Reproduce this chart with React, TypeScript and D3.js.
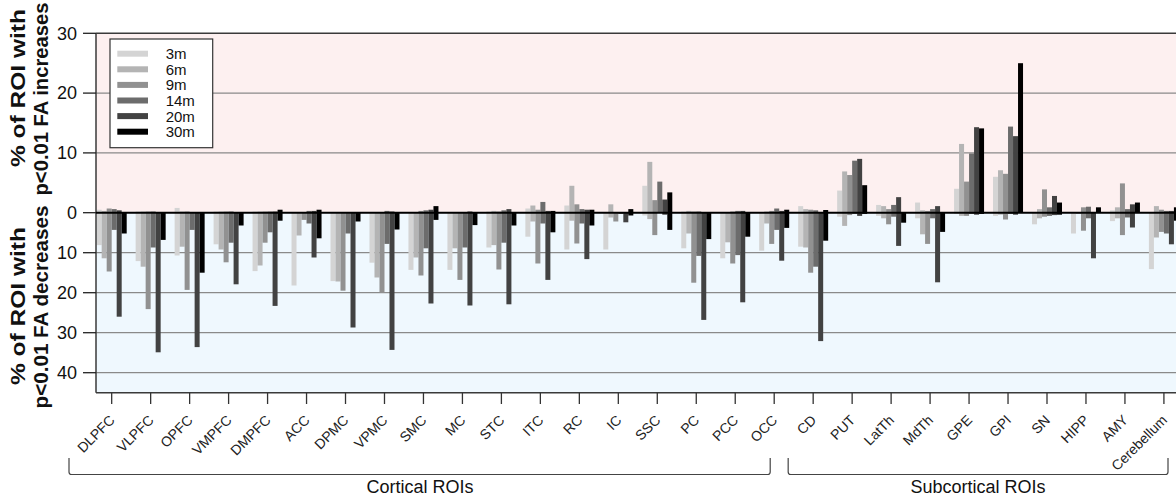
import React from 'react';
import * as d3 from 'd3';

const rois = ['DLPFC', 'VLPFC', 'OPFC', 'VMPFC', 'DMPFC', 'ACC', 'DPMC', 'VPMC', 'SMC', 'MC', 'STC', 'ITC', 'RC', 'IC', 'SSC', 'PC', 'PCC', 'OCC',
  'CD', 'PUT', 'LatTh', 'MdTh', 'GPE', 'GPI', 'SN', 'HIPP', 'AMY', 'Cerebellum'];
const groups = [
  { label: 'Cortical ROIs', first: 'DLPFC', last: 'OCC' },
  { label: 'Subcortical ROIs', first: 'CD', last: 'Cerebellum' },
];
const seriesNames = ['3m', '6m', '9m', '14m', '20m', '30m'];
const seriesColors = ['#d4d4d4', '#b4b4b4', '#919191', '#6c6c6c', '#424242', '#000000'];

// % of ROI with p<0.01 FA increases
const inc3m = [0.5, 0.2, 0.8, 0.2, 0.2, 0, 0, 0, 0, 0, 0.2, 0.7, 1.2, 0, 4.5, 0.2, 0, 0, 1.1, 3.7, 1.3, 1.7, 4.0, 6.0, 0, 0, 0.4, 0];
const inc6m = [0.3, 0.2, 0.2, 0.2, 0.2, 0, 0, 0, 0, 0, 0.3, 1.2, 4.5, 1.4, 8.5, 0.3, 0, 0.2, 0.6, 6.9, 1.1, 0.4, 11.5, 7.1, 0.6, 0, 0.9, 1.1];
const inc9m = [0.7, 0.2, 0.2, 0.2, 0.2, 0, 0, 0, 0.3, 0, 0.2, 0.5, 1.4, 0, 2.1, 0.2, 0.2, 0.3, 0.5, 6.3, 0.6, 0.3, 5.2, 6.5, 3.9, 0.9, 4.9, 0.5];
const inc14m = [0.6, 0.2, 0, 0.2, 0.2, 0.3, 0, 0.3, 0.4, 0, 0.4, 1.8, 0.6, 0, 5.2, 0.2, 0.3, 0.7, 0.4, 8.7, 1.3, 0.6, 9.9, 14.4, 0.9, 1.0, 0.6, 0.3];
const inc20m = [0.4, 0, 0, 0, 0.2, 0.3, 0, 0.2, 0.5, 0.2, 0.6, 0.3, 0.5, 0, 2.2, 0, 0.3, 0.3, 0, 9.0, 2.6, 1.1, 14.3, 12.8, 2.8, 0, 1.4, 0.3];
const inc30m = [0, 0, 0, 0, 0.5, 0.5, 0, 0, 1.1, 0, 0, 0.3, 0.5, 0.6, 3.4, 0, 0, 0.5, 0.45, 4.6, 0, 0, 14.1, 25, 1.7, 0.9, 1.7, 0.9];

// % of ROI with p<0.01 FA decreases
const dec3m = [8.1, 12.1, 10.7, 7.9, 14.6, 18.2, 17.1, 12.5, 14.3, 14.3, 8.7, 6, 9.2, 9.2, 0.7, 8.9, 11.4, 9.5, 8.5, 1, 0.8, 1.4, 0.3, 0.8, 2.9, 5.2, 2.1, 14.1];
const dec6m = [11.4, 13.5, 8.5, 9.2, 13.2, 5.7, 17.2, 16.2, 11.2, 8.9, 8.1, 2.2, 2, 1.2, 1.6, 5.2, 7.4, 2.7, 8.7, 3.3, 1.4, 5.4, 0.8, 0.5, 1.4, 0.3, 1.4, 6.2];
const dec9m = [14.7, 24.1, 19.3, 12.4, 7.5, 1.8, 19.5, 20, 15.7, 16.8, 14.2, 12.7, 7.7, 2.2, 5.6, 17.5, 12.7, 7.8, 15, 0.6, 2.9, 7.8, 0.8, 1.7, 1, 4.5, 5.6, 4.8];
const dec14m = [4.3, 8.7, 4.3, 7.5, 4.9, 2.7, 5.2, 7.8, 8.9, 8.7, 7.5, 2.7, 2.7, 0.3, 0, 10.8, 10.6, 4.3, 13.5, 0.3, 1, 1.4, 0.3, 0.3, 0.8, 1.4, 1.2, 5.2];
const dec20m = [26, 34.9, 33.6, 17.9, 23.3, 11.2, 28.7, 34.3, 22.7, 23.2, 22.9, 16.8, 11.6, 2.4, 0.5, 26.8, 22.4, 12, 32.1, 0.8, 8.3, 17.4, 0.5, 0.5, 0.6, 11.4, 3.7, 7.9];
const dec30m = [5.2, 6.8, 15, 3.2, 2, 6.4, 2.2, 4.2, 1.8, 3.1, 3.2, 4.9, 3.2, 0.7, 4.3, 6.6, 6, 3.8, 7, 0.3, 2.5, 4.8, 0.3, 0, 0.5, 0, 0, 2];

const increases = [inc3m, inc6m, inc9m, inc14m, inc20m, inc30m];
const decreases = [dec3m, dec6m, dec9m, dec14m, dec20m, dec30m];

const upTicks = [0, 10, 20, 30];
const downTicks = [10, 20, 30, 40];

const W = 1176;
const H = 496;
const plotLeft = 96;
const plotRight = 1190;
const plotTop = 33.3;
const zeroY = 212.7;
const plotBottom = 392.7;
const font = 'Liberation Sans, Arial, sans-serif';

const x = d3.scaleBand().domain(rois).range([92.2, 1183.4]).paddingInner(0.23).paddingOuter(0.115);
const xs = d3.scaleBand().domain(seriesNames).range([0, x.bandwidth()]);
const yUp = d3.scaleLinear().domain([0, 30]).range([zeroY, plotTop]);
const yDown = d3.scaleLinear().domain([0, 45]).range([zeroY, plotBottom]);

const center = (r: string) => (x(r) as number) + x.bandwidth() / 2;

export default function App() {
  return (
    <div style={{ position: 'absolute', left: 0, top: 0 }}>
      <svg width={W} height={H} style={{ display: 'block', background: '#fff' }} fontFamily={font}>
        {/* backgrounds */}
        <rect x={plotLeft} y={plotTop} width={plotRight - plotLeft} height={zeroY - plotTop} fill="#fdf0f0" />
        <rect x={plotLeft} y={zeroY} width={plotRight - plotLeft} height={plotBottom - zeroY} fill="#eff8fe" />

        {/* grid */}
        {upTicks.filter(t => t > 0 && t < 30).map(t => (
          <line key={'gu' + t} x1={plotLeft} x2={plotRight} y1={yUp(t)} y2={yUp(t)} stroke="#8a8a8a" strokeWidth={1.2} />
        ))}
        {downTicks.map(t => (
          <line key={'gd' + t} x1={plotLeft} x2={plotRight} y1={yDown(t)} y2={yDown(t)} stroke="#8a8a8a" strokeWidth={1.2} />
        ))}

        {/* bars */}
        {seriesNames.map((s, j) => (
          <g key={s} fill={seriesColors[j]}>
            {rois.map((r, i) => {
              const bx = (x(r) as number) + (xs(s) as number);
              const up = increases[j][i];
              const dn = decreases[j][i];
              return (
                <g key={r}>
                  {up > 0 && <rect x={bx} y={yUp(up)} width={xs.bandwidth()} height={zeroY - yUp(up)} />}
                  {dn > 0 && <rect x={bx} y={zeroY} width={xs.bandwidth()} height={yDown(dn) - zeroY} />}
                </g>
              );
            })}
          </g>
        ))}

        {/* frame and zero line */}
        <line x1={plotLeft} x2={plotRight} y1={plotTop} y2={plotTop} stroke="#3a3a3a" strokeWidth={1.5} />
        <line x1={plotLeft} x2={plotRight} y1={plotBottom} y2={plotBottom} stroke="#3a3a3a" strokeWidth={1.5} />
        <line x1={plotLeft} x2={plotLeft} y1={plotTop} y2={plotBottom} stroke="#3a3a3a" strokeWidth={1.5} />
        <line x1={plotLeft} x2={plotRight} y1={zeroY} y2={zeroY} stroke="#000" strokeWidth={2} />

        {/* y axis */}
        {upTicks.map(t => (
          <g key={'tu' + t} transform={`translate(0,${yUp(t)})`}>
            <line x1={83} x2={plotLeft} stroke="#222" strokeWidth={1.3} />
            <text x={77} dy="0.35em" textAnchor="end" fontSize={18} fill="#111">{t}</text>
          </g>
        ))}
        {downTicks.map(t => (
          <g key={'td' + t} transform={`translate(0,${yDown(t)})`}>
            <line x1={83} x2={plotLeft} stroke="#222" strokeWidth={1.3} />
            <text x={77} dy="0.35em" textAnchor="end" fontSize={18} fill="#111">{t}</text>
          </g>
        ))}

        {/* y titles */}
        <g fontWeight="bold" fontSize={20} fill="#111" textAnchor="middle">
          <text transform="translate(25,88) rotate(-90)" textLength={158} lengthAdjust="spacingAndGlyphs">% of ROI with</text>
          <text transform="translate(48,99) rotate(-90)" textLength={193} lengthAdjust="spacingAndGlyphs">p&lt;0.01 FA increases</text>
          <text transform="translate(25,306) rotate(-90)" textLength={158} lengthAdjust="spacingAndGlyphs">% of ROI with</text>
          <text transform="translate(48,307) rotate(-90)" textLength={203} lengthAdjust="spacingAndGlyphs">p&lt;0.01 FA decreases</text>
        </g>

        {/* x axis */}
        {rois.map(r => (
          <g key={'x' + r}>
            <line x1={center(r)} x2={center(r)} y1={plotBottom} y2={404} stroke="#333" strokeWidth={1.3} />
            <g transform={`translate(${center(r) + 4},421) rotate(-45)`}>
              <text x={0} y={0} textAnchor="end" fontSize={14} fill="#222">{r}</text>
            </g>
          </g>
        ))}

        {/* group brackets */}
        {groups.map((g, k) => {
          const x1 = k === 0 ? 69 : center(g.first) - 25;
          const x2 = k === 0 ? center(g.last) - 4 : 1168;
          return (
            <g key={g.label}>
              <path d={`M${x1},458 V472 Q${x1},474.5 ${x1 + 2.5},474.5 H${x2 - 2.5} Q${x2},474.5 ${x2},472 V458`}
                fill="none" stroke="#444" strokeWidth={1.2} />
              <text x={k === 0 ? 420 : 978} y={493} textAnchor="middle" fontSize={18} fill="#111">{g.label}</text>
            </g>
          );
        })}

        {/* legend */}
        <rect x={110} y={39} width={102.7} height={108.7} fill="#fff" stroke="#333" strokeWidth={1.2} />
        {seriesNames.map((s, j) => (
          <g key={'l' + s} transform={`translate(0,${53.7 + j * 15.6})`}>
            <rect x={117.3} y={-3} width={30.7} height={6} fill={seriesColors[j]} />
            <text x={165.7} dy="0.36em" fontSize={15} fill="#111">{s}</text>
          </g>
        ))}
      </svg>
    </div>
  );
}
